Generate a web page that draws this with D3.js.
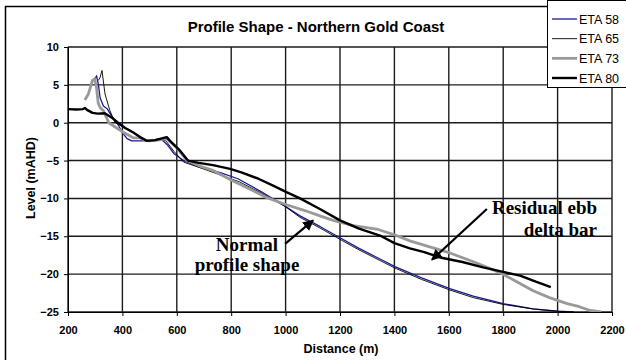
<!DOCTYPE html>
<html>
<head>
<meta charset="utf-8">
<script src="https://cdn.jsdelivr.net/npm/d3@7"></script>
<style>
  html, body { margin: 0; padding: 0; background: #fff; }
  svg { display: block; font-family: "Liberation Sans", Arial, sans-serif; }
</style>
</head>
<body>
<div id="chart"></div>
<script>
// axis ticks
const xTicks = [200, 400, 600, 800, 1000, 1200, 1400, 1600, 1800, 2000, 2200];
const yTicks = [10, 5, 0, -5, -10, -15, -20, -25];

// series (distance m, level mAHD)
const eta58Dist = [296, 305, 312, 318, 330, 345, 360, 380, 400, 417, 435, 470, 512, 540, 565, 590, 625, 685, 760, 825, 905, 980, 1053, 1126, 1200, 1270, 1347, 1402, 1500, 1604, 1690, 1800, 1910, 2000, 2060];
const eta58Level = [5.5, 6.2, 5.0, 3.3, 2.2, 1.8, 0.9, 0.0, -1.3, -2.1, -2.4, -2.4, -2.3, -2.1, -2.9, -4.1, -5.0, -5.9, -6.6, -7.4, -9.0, -10.6, -12.3, -13.7, -15.2, -16.6, -18.0, -19.0, -20.5, -21.9, -22.9, -23.9, -24.6, -24.9, -25.0];

const eta65Dist = [312, 318, 325, 336, 354, 373, 402, 430, 450, 470, 490, 510, 538, 560, 590, 625, 690, 760, 830, 910, 1000, 1053, 1126, 1200, 1270, 1347, 1402, 1500, 1604, 1690, 1800, 1910, 2000, 2060];
const eta65Level = [5.6, 6.0, 6.9, 3.8, 1.6, 0.0, -0.5, -1.0, -1.5, -2.2, -2.4, -2.4, -2.1, -2.4, -3.8, -5.2, -6.0, -6.9, -7.8, -9.3, -11.1, -12.5, -13.9, -15.4, -16.8, -18.2, -19.2, -20.7, -22.1, -23.1, -24.0, -24.6, -24.9, -25.0];

const eta73Dist = [262, 275, 290, 298, 305, 311, 318, 330, 350, 375, 410, 440, 465, 480, 500, 530, 563, 600, 637, 690, 733, 807, 870, 931, 1000, 1071, 1126, 1175, 1250, 1340, 1400, 1457, 1530, 1604, 1700, 1788, 1850, 1910, 1970, 2035, 2080, 2120, 2160];
const eta73Level = [3.0, 3.8, 5.6, 5.8, 4.6, 2.6, 2.0, 1.6, 0.0, -0.6, -1.4, -2.0, -2.0, -2.3, -2.4, -2.3, -2.1, -3.3, -5.0, -5.8, -6.3, -7.7, -8.8, -9.9, -10.8, -11.6, -12.3, -12.9, -13.6, -14.1, -14.8, -15.6, -16.4, -17.2, -18.5, -19.8, -21.0, -22.2, -23.1, -23.9, -24.3, -24.8, -25.0];

const eta80Dist = [200, 230, 255, 262, 270, 290, 310, 335, 360, 384, 410, 440, 465, 490, 520, 563, 575, 612, 641, 680, 733, 796, 840, 900, 954, 1005, 1053, 1126, 1200, 1270, 1347, 1400, 1457, 1510, 1568, 1650, 1726, 1800, 1862, 1920, 1975];
const eta80Level = [1.8, 1.75, 1.8, 1.95, 1.7, 1.3, 1.2, 1.25, 0.7, 0.0, -0.7, -1.3, -1.9, -2.4, -2.3, -1.9, -2.4, -3.7, -5.0, -5.3, -5.6, -6.1, -6.6, -7.4, -8.3, -9.2, -10.0, -11.4, -12.9, -14.0, -14.9, -15.9, -16.6, -17.1, -17.8, -18.4, -19.1, -19.7, -20.2, -21.0, -21.7];

const seriesNames = ['ETA 58', 'ETA 65', 'ETA 73', 'ETA 80'];

const width = 626, height = 360;
const plot = { left: 68, right: 612, top: 47, bottom: 312 };

const svg = d3.select('#chart').append('svg')
  .attr('width', width)
  .attr('height', height);

// outer chart border
svg.append('rect')
  .attr('x', 5.5).attr('y', 6.5)
  .attr('width', 700).attr('height', 400)
  .attr('fill', 'none').attr('stroke', '#000').attr('stroke-width', 1.5);

const x = d3.scaleLinear().domain([200, 2200]).range([plot.left, plot.right]);
const y = d3.scaleLinear().domain([-25, 10]).range([plot.bottom, plot.top]);

// gridlines
const grid = svg.append('g');
grid.selectAll('line.gv').data(xTicks).enter().append('line')
  .attr('class', 'gv')
  .attr('x1', d => x(d)).attr('x2', d => x(d))
  .attr('y1', plot.top).attr('y2', plot.bottom)
  .attr('stroke', '#1c1c1c').attr('stroke-width', 1.4);
grid.selectAll('line.gh').data(yTicks).enter().append('line')
  .attr('class', 'gh')
  .attr('x1', plot.left).attr('x2', plot.right)
  .attr('y1', d => y(d)).attr('y2', d => y(d))
  .attr('stroke', '#1c1c1c').attr('stroke-width', 1.4);

// axes
const xAxis = svg.append('g')
  .attr('transform', 'translate(0,' + plot.bottom + ')')
  .call(d3.axisBottom(x).tickValues(xTicks).tickSize(4).tickPadding(10).tickSizeOuter(0).tickFormat(d3.format('d')));
const yAxis = svg.append('g')
  .attr('transform', 'translate(' + plot.left + ',0)')
  .call(d3.axisLeft(y).tickValues(yTicks).tickSize(4).tickPadding(5).tickSizeOuter(0).tickFormat(d3.format('d')));

[xAxis, yAxis].forEach(a => {
  a.selectAll('path, line').attr('stroke', '#000');
  a.selectAll('text')
    .attr('fill', '#000')
    .style('font-family', '"Liberation Sans", Arial, sans-serif')
    .style('font-size', '11px')
    .style('font-weight', 'bold');
});

// lines
svg.append('clipPath').attr('id', 'plotclip')
  .append('rect')
  .attr('x', plot.left).attr('y', plot.top - 20)
  .attr('width', plot.right - plot.left).attr('height', plot.bottom - plot.top + 20);

const line = d3.line().x(d => x(d[0])).y(d => y(d[1]));
const series = [
  { name: seriesNames[0], pts: d3.zip(eta58Dist, eta58Level), color: '#1a1a9c', w: 1.3 },
  { name: seriesNames[1], pts: d3.zip(eta65Dist, eta65Level), color: '#000', w: 0.9 },
  { name: seriesNames[2], pts: d3.zip(eta73Dist, eta73Level), color: '#999', w: 2.8 },
  { name: seriesNames[3], pts: d3.zip(eta80Dist, eta80Level), color: '#000', w: 2.4 }
];

svg.append('g').attr('clip-path', 'url(#plotclip)')
  .selectAll('path').data(series).enter().append('path')
  .attr('d', d => line(d.pts))
  .attr('fill', 'none')
  .attr('stroke', d => d.color)
  .attr('stroke-width', d => d.w)
  .attr('stroke-linejoin', 'round');

// annotations
svg.append('defs').append('marker')
  .attr('id', 'head')
  .attr('viewBox', '0 0 10 10')
  .attr('refX', 9).attr('refY', 5)
  .attr('markerWidth', 5).attr('markerHeight', 5)
  .attr('orient', 'auto')
  .append('path').attr('d', 'M0,0 L10,5 L0,10 z').attr('fill', '#000');

const arrows = [
  { from: [998, -16.0], to: [1101, -12.9] },
  { from: [1740, -11.4], to: [1538, -18.1] }
];
svg.append('g').selectAll('line').data(arrows).enter().append('line')
  .attr('x1', d => x(d.from[0])).attr('y1', d => y(d.from[1]))
  .attr('x2', d => x(d.to[0])).attr('y2', d => y(d.to[1]))
  .attr('stroke', '#000').attr('stroke-width', 2.2)
  .attr('marker-end', 'url(#head)');

const notes = [
  { text: 'Normal', at: [858, -16.9], anchor: 'middle' },
  { text: 'profile shape', at: [858, -19.55], anchor: 'middle' },
  { text: 'Residual ebb', at: [2145, -12.0], anchor: 'end' },
  { text: 'delta bar', at: [2145, -14.9], anchor: 'end' }
];
svg.append('g').selectAll('text').data(notes).enter().append('text')
  .attr('x', d => x(d.at[0])).attr('y', d => y(d.at[1]))
  .attr('text-anchor', d => d.anchor)
  .style('font-family', '"Liberation Serif", "Times New Roman", serif')
  .style('font-size', '19px')
  .style('font-weight', 'bold')
  .text(d => d.text);

// title & axis titles
svg.append('text')
  .attr('x', 316).attr('y', 32)
  .attr('text-anchor', 'middle')
  .style('font-size', '15px').style('font-weight', 'bold')
  .text('Profile Shape - Northern Gold Coast');

svg.append('text')
  .attr('x', 341).attr('y', 353)
  .attr('text-anchor', 'middle')
  .style('font-size', '12.5px').style('font-weight', 'bold')
  .text('Distance (m)');

svg.append('text')
  .attr('transform', 'translate(35,178) rotate(-90)')
  .attr('text-anchor', 'middle')
  .style('font-size', '12.5px').style('font-weight', 'bold')
  .text('Level (mAHD)');

// legend
const legend = svg.append('g');
legend.append('rect')
  .attr('x', 547.5).attr('y', 0.5)
  .attr('width', 100).attr('height', 87)
  .attr('fill', '#fff').attr('stroke', '#000').attr('stroke-width', 1);
const legendY = d3.scalePoint().domain(seriesNames).range([19, 78]);
const items = legend.selectAll('g.item').data(series).enter().append('g')
  .attr('class', 'item')
  .attr('transform', d => 'translate(0,' + legendY(d.name) + ')');
items.append('line')
  .attr('x1', 552).attr('x2', 577)
  .attr('stroke', d => d.color)
  .attr('stroke-width', d => d.w);
items.append('text')
  .attr('x', 579).attr('dy', '0.36em')
  .style('font-size', '12.5px')
  .text(d => d.name);
</script>
</body>
</html>
